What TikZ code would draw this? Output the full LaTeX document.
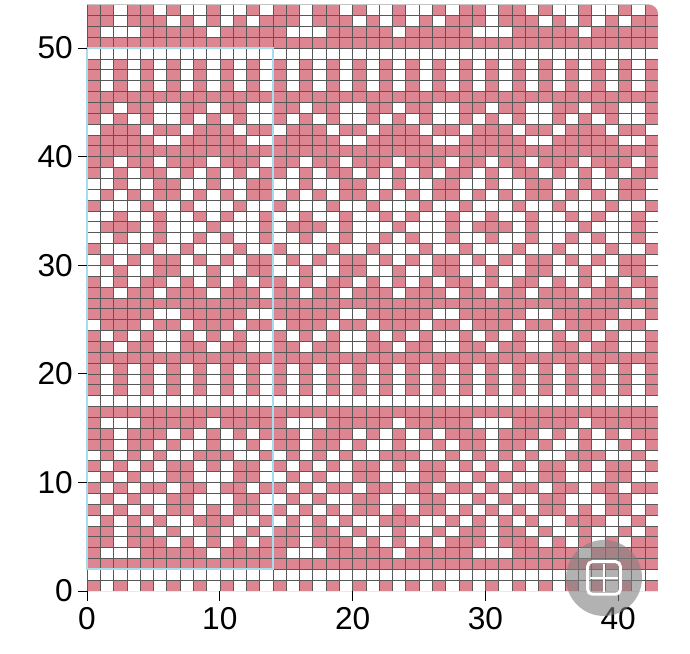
\documentclass[tikz,border=0pt]{standalone}
\usepackage{fontspec}
\setmainfont{Liberation Sans}
\usepackage{xcolor}
\usepackage{tikz}
\definecolor{Knit}{HTML}{DD8590}
\definecolor{GridGrey}{HTML}{585858}
\definecolor{RepeatBlue}{HTML}{A6DCEB}
% white stitches: rows, then columns of the 14-stitch repeat
\newcommand{\whitecells}[2]{%
  \foreach \r in {#1}
    \foreach \c in {#2}
      \foreach \k in {0,14,28,42}
        \fill[white] (\c+\k,\r) rectangle ++(1,1);}

\begin{document}
\begin{tikzpicture}[
  x=0.3984cm, y=0.3258cm,
  gridline/.style={draw=GridGrey, line width=0.45pt},
  tickline/.style={draw=black, line width=0.8pt},
  axislabel/.style={font=\fontsize{27}{30}\selectfont, inner sep=0pt}
]
  \useasboundingbox (-6.551,-5.709) rectangle (45.407,54.420);
  \fill[white] (-6.551,-5.709) rectangle (45.407,54.420);

  \begin{scope}
    \clip (0,0) -- (43,0) [rounded corners=8pt] -- (43,54) [sharp corners] -- (0,54) -- cycle;
    \fill[Knit] (0,0) rectangle (43,54);
    \whitecells{0,18,19,20,46,47,48}{1,3,5,7,9,11,13}
    \whitecells{1,17,49}{0,...,13}
    \whitecells{3,15,51}{1,2,3,9}
    \whitecells{4,14,52}{2,6,8,10,12}
    \whitecells{5,13,53}{2,5,7,8,10,11,13}
    \whitecells{6,12}{0,2,4,6,7,11,12}
    \whitecells{7,11}{1,3,5,8,10,13}
    \whitecells{8,10}{0,2,4,5,8,9,10,13}
    \whitecells{9}{1,3,6,9,12}
    \whitecells{22,44}{2,5,6,9,12,13}
    \whitecells{23,43}{1,3,5,6,8,10,12,13}
    \whitecells{24,42}{0,4,7,11}
    \whitecells{25,41}{5,6,12,13}
    \whitecells{27,39}{2,5,9,13}
    \whitecells{28,38}{1,3,6,8,10,12}
    \whitecells{29,37}{0,1,3,4,7,8,10,11}
    \whitecells{30,36}{0,2,4,7,9,11}
    \whitecells{31,35}{1,2,3,5,6,8,9,10,12,13}
    \whitecells{32,34}{0,1,3,4,6,7,9,11,12}
    \whitecells{33}{0,4,6,7,8,10,11,12}
    \foreach \i in {0,...,43}
      \draw[gridline] (\i,0) -- (\i,54);
    \foreach \j in {0,...,54}
      \draw[gridline] (0,\j) -- (43,\j);
  \end{scope}

  % repeat box
  \draw[RepeatBlue, line width=1.6pt] (0,2) rectangle (14,50);

  % axes
  \foreach \v in {0,10,...,50} {
    \draw[tickline] (-0.68,\v) -- (0,\v);
    \node[axislabel, anchor=east] (ylab\v) at (-1.05,\v) {\v};
  }
  \foreach \v in {0,10,...,40} {
    \draw[tickline] (\v,0) -- (\v,-0.92);
    \node[axislabel, anchor=north] (xlab\v) at (\v,-1.47) {\v};
  }

  % zoom button
  \fill[gray, opacity=0.6] (38.93,1.2) circle[radius=1.14cm];
  \draw[white, line width=2.5pt, rounded corners=4pt] (37.7,-0.3) rectangle (40.16,2.7);
  \draw[white, line width=2.5pt] (38.93,-0.1) -- (38.93,2.5) (37.9,1.2) -- (39.96,1.2);
\end{tikzpicture}
\end{document}
